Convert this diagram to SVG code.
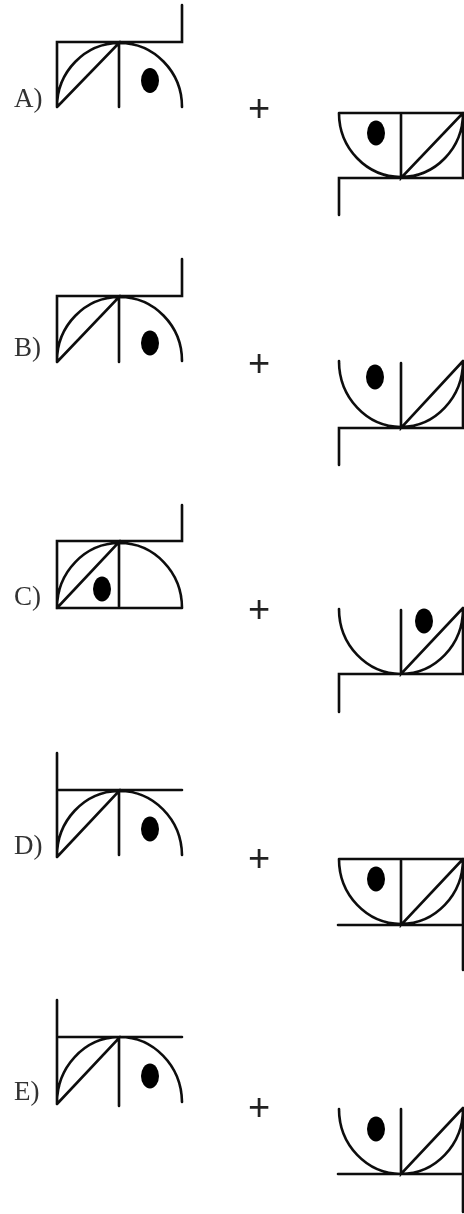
<svg xmlns="http://www.w3.org/2000/svg" width="464" height="1214" viewBox="0 0 464 1214">
<style>
.l{fill:none;stroke:#111;stroke-width:2.6;stroke-linecap:round;stroke-linejoin:miter}
.d{fill:#000;stroke:none}
.t{font-family:"Liberation Serif",serif;font-size:27px;fill:#333}
.p{font-family:"Liberation Sans",sans-serif;font-size:38px;fill:#222;text-anchor:middle}
</style>
<defs><filter id="b" x="-5%" y="-5%" width="110%" height="110%"><feGaussianBlur stdDeviation="0.35"/></filter></defs>
<rect width="464" height="1214" fill="#fff"/>
<g filter="url(#b)">
<g id="connectors"/>
<g id="a-left">
<text class="t" x="14" y="107">A)</text>
<path class="l" d="M57 107V42H182V5M57 107L119 43V107M57 107A62.500 64 0 0 1 182 107"/>
<ellipse class="d" cx="150" cy="80.500" rx="9" ry="12.500"/>
</g>
<g id="a-plus"><text class="p" x="259" y="120.500">+</text></g>
<g id="a-right">
<path class="l" d="M339 113H463V178H339V215M401 113V178L463 113M339 113A62 64 0 0 0 463 113"/>
<ellipse class="d" cx="376" cy="133" rx="9" ry="12.500"/>
</g>
<g id="b-left">
<text class="t" x="14" y="356">B)</text>
<path class="l" d="M57 362V296H182V259M57 362L119 297V362M57 361A62.500 64 0 0 1 182 361"/>
<ellipse class="d" cx="150" cy="343" rx="9" ry="12.500"/>
</g>
<g id="b-plus"><text class="p" x="259" y="375.500">+</text></g>
<g id="b-right">
<path class="l" d="M463 361V428H339V465M401 363V428L463 361M339 361A62 66 0 0 0 463 361"/>
<ellipse class="d" cx="375" cy="377" rx="9" ry="12.500"/>
</g>
<g id="c-left">
<text class="t" x="14" y="605">C)</text>
<path class="l" d="M182 608H57V541H182V505M57 608L119 542V608M57 608A62.500 65 0 0 1 182 608"/>
<ellipse class="d" cx="102" cy="589" rx="9" ry="12.500"/>
</g>
<g id="c-plus"><text class="p" x="259" y="621.500">+</text></g>
<g id="c-right">
<path class="l" d="M463 608V674H339V712M401 610V674L463 608M339 609A62 65 0 0 0 463 609"/>
<ellipse class="d" cx="424" cy="621" rx="9" ry="12.500"/>
</g>
<g id="d-left">
<text class="t" x="14" y="854">D)</text>
<path class="l" d="M57 753V857M57 790H182M57 857L119 791V855M57 857A62.500 65 0 0 1 182 855"/>
<ellipse class="d" cx="150" cy="829" rx="9" ry="12.500"/>
</g>
<g id="d-plus"><text class="p" x="259" y="870.500">+</text></g>
<g id="d-right">
<path class="l" d="M339 859H463V970M338 925H463M401 859V925L463 859M339 859A62 65 0 0 0 463 859"/>
<ellipse class="d" cx="376" cy="879" rx="9" ry="12.500"/>
</g>
<g id="e-left">
<text class="t" x="14" y="1100">E)</text>
<path class="l" d="M57 1000V1104M57 1037H182M57 1104L119 1038V1106M57 1104A62.500 66 0 0 1 182 1102"/>
<ellipse class="d" cx="150" cy="1076" rx="9" ry="12.500"/>
</g>
<g id="e-plus"><text class="p" x="259" y="1119.500">+</text></g>
<g id="e-right">
<path class="l" d="M463 1108V1212M338 1174H463M401 1109V1174L463 1108M339 1109A62 65 0 0 0 463 1109"/>
<ellipse class="d" cx="376" cy="1129" rx="9" ry="12.500"/>
</g>
</g>
</svg>
